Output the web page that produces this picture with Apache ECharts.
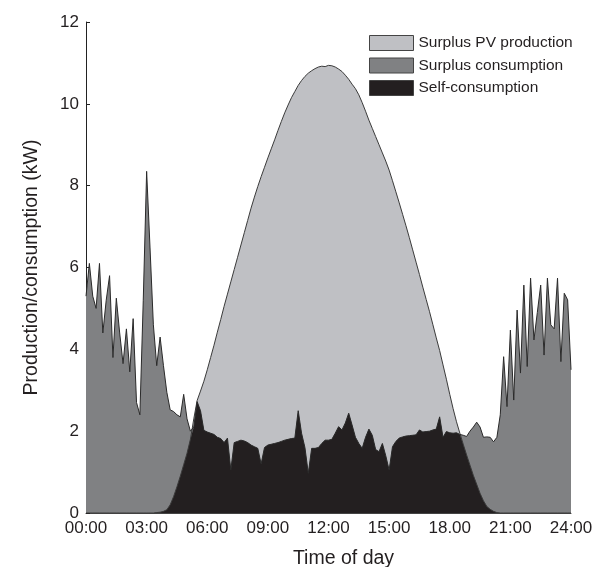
<!DOCTYPE html>
<html>
<head>
<meta charset="utf-8">
<script src="https://cdn.jsdelivr.net/npm/echarts@6/dist/echarts.min.js"></script>
<style>
  html, body { margin: 0; padding: 0; background: #ffffff; }
  #chart { width: 601px; height: 567px; }
</style>
</head>
<body>
<div id="chart"></div>
<script>
// Time grid: one sample every 10 minutes, 00:00 .. 24:00
const stepMinutes = 10;

// Total household consumption (kW)
const consumption = [
  5.3, 6.1, 5.3, 5.0, 6.1, 4.4, 5.2, 5.8, 3.8, 5.25,
  4.4, 3.65, 4.5, 3.45, 4.75, 2.7, 2.4, 5.2, 8.35, 6.5,
  4.6, 3.6, 4.3, 3.6, 2.95, 2.52, 2.48, 2.4, 2.35, 2.9,
  2.3, 2.0, 2.1, 2.72, 2.5, 2.02, 1.98, 1.95, 1.92, 1.85,
  1.82, 1.72, 1.83, 1.05, 1.72, 1.75, 1.78, 1.76, 1.72, 1.66,
  1.62, 1.58, 1.2, 1.6, 1.66, 1.68, 1.70, 1.72, 1.75, 1.78,
  1.80, 1.82, 1.83, 2.5, 1.95, 1.6, 0.97, 1.58, 1.58, 1.6,
  1.7, 1.78, 1.78, 1.8, 1.95, 2.11, 2.03, 2.2, 2.44, 2.15,
  1.85, 1.7, 1.58, 1.85, 2.05, 1.9, 1.55, 1.5, 1.7, 1.4,
  1.05, 1.62, 1.75, 1.83, 1.86, 1.88, 1.89, 1.9, 1.91, 2.03,
  1.98, 1.99, 2.0, 2.03, 2.05, 2.35, 1.85, 1.99, 1.96, 1.95,
  1.96, 1.92, 1.9, 1.87, 2.0, 2.1, 2.22, 2.1, 1.85, 1.86,
  1.85, 1.74, 1.85, 2.4, 3.82, 2.6, 4.47, 2.76, 4.96, 3.42,
  5.57, 3.58, 5.74, 4.23, 4.9, 5.57, 3.86, 5.74, 4.6, 4.5,
  5.74, 3.70, 5.37, 5.21, 3.5
];

// PV production (kW)
const pvProduction = [
  0, 0, 0, 0, 0, 0, 0, 0, 0, 0,
  0, 0, 0, 0, 0, 0, 0, 0, 0, 0,
  0, 0.01, 0.02, 0.04, 0.08, 0.2, 0.4, 0.64, 0.9, 1.18,
  1.46, 1.8, 2.3, 2.75, 2.98, 3.22, 3.5, 3.8, 4.1, 4.42,
  4.73, 5.05, 5.35, 5.65, 5.95, 6.25, 6.55, 6.85, 7.15, 7.45,
  7.72, 7.98, 8.22, 8.45, 8.68, 8.9, 9.12, 9.35, 9.57, 9.78,
  9.97, 10.15, 10.3, 10.45, 10.57, 10.67, 10.75, 10.81, 10.86, 10.9,
  10.92, 10.91, 10.94, 10.93, 10.9, 10.85, 10.79, 10.7, 10.6, 10.48,
  10.37, 10.22, 10.03, 9.82, 9.6, 9.4, 9.2, 9.0, 8.8, 8.6,
  8.38, 8.12, 7.85, 7.58, 7.3, 7.02, 6.73, 6.43, 6.13, 5.83,
  5.52, 5.22, 4.92, 4.6, 4.28, 3.97, 3.62, 3.27, 2.9, 2.55,
  2.23, 1.95, 1.68, 1.42, 1.17, 0.92, 0.7, 0.48, 0.3, 0.16,
  0.09, 0.04, 0.01, 0, 0, 0, 0, 0, 0, 0,
  0, 0, 0, 0, 0, 0, 0, 0, 0, 0,
  0, 0, 0, 0, 0
];

const xTickLabels = ['00:00', '03:00', '06:00', '09:00', '12:00', '15:00', '18.00', '21:00', '24:00'];
const seriesNames = ['Surplus PV production', 'Surplus consumption', 'Self-consumption'];

const hours = consumption.map((_, i) => i * stepMinutes / 60);
const pvPairs = pvProduction.map((v, i) => [hours[i], v]);
const consPairs = consumption.map((v, i) => [hours[i], v]);
const selfPairs = consumption.map((v, i) => [hours[i], Math.min(v, pvProduction[i])]);

const FONT = '"Liberation Sans", Arial, Helvetica, sans-serif';
const TXT = '#231f20';
const C_PV = '#bfc0c4';
const C_CONS = '#808183';
const C_SELF = '#231f20';

const chart = echarts.init(document.getElementById('chart'), null, { renderer: 'canvas' });
chart.setOption({
  animation: false,
  backgroundColor: '#ffffff',
  textStyle: { fontFamily: FONT },
  grid: { left: 86, width: 485, top: 22, height: 491, containLabel: false, outerBoundsMode: 'none' },
  legend: {
    orient: 'vertical',
    left: 369,
    top: 35,
    padding: 0,
    itemWidth: 44,
    itemHeight: 15,
    itemGap: 6.5,
    textStyle: { fontFamily: FONT, fontSize: 15.5, color: TXT },
    data: [
      { name: seriesNames[0], icon: 'rect', itemStyle: { color: C_PV, borderColor: '#444', borderWidth: 1 } },
      { name: seriesNames[1], icon: 'rect', itemStyle: { color: C_CONS, borderColor: '#444', borderWidth: 1 } },
      { name: seriesNames[2], icon: 'rect', itemStyle: { color: C_SELF, borderColor: '#444', borderWidth: 1 } }
    ]
  },
  xAxis: {
    type: 'value',
    min: 0,
    max: 24,
    interval: 3,
    name: 'Time of day',
    nameLocation: 'middle',
    nameGap: 36,
    nameTextStyle: { fontFamily: FONT, fontSize: 19.5, color: TXT, padding: [0, 0, 0, 30] },
    axisLine: { show: true, lineStyle: { color: '#444', width: 1 } },
    axisTick: { show: false },
    splitLine: { show: false },
    axisLabel: {
      fontFamily: FONT, fontSize: 17, color: TXT, margin: 7,
      formatter: (v) => xTickLabels[Math.round(v / 3)]
    }
  },
  yAxis: {
    type: 'value',
    min: 0,
    max: 12,
    interval: 2,
    name: 'Production/consumption (kW)',
    nameLocation: 'middle',
    nameGap: 44,
    nameTextStyle: { fontFamily: FONT, fontSize: 19.5, color: TXT },
    axisLine: { show: true, lineStyle: { color: '#222', width: 1 } },
    axisTick: { show: true, inside: true, length: 4, lineStyle: { color: '#222' } },
    splitLine: { show: false },
    axisLabel: { fontFamily: FONT, fontSize: 17, color: TXT, margin: 7 }
  },
  series: [
    {
      name: seriesNames[0],
      type: 'line',
      data: pvPairs,
      symbol: 'none',
      lineStyle: { color: '#3a3a3a', width: 1 },
      areaStyle: { color: C_PV, opacity: 1 },
      itemStyle: { color: C_PV }
    },
    {
      name: seriesNames[1],
      type: 'line',
      data: consPairs,
      symbol: 'none',
      lineStyle: { color: '#2a2a2a', width: 1 },
      areaStyle: { color: C_CONS, opacity: 1 },
      itemStyle: { color: C_CONS }
    },
    {
      name: seriesNames[2],
      type: 'line',
      data: selfPairs,
      symbol: 'none',
      lineStyle: { width: 0, color: C_SELF },
      areaStyle: { color: C_SELF, opacity: 1 },
      itemStyle: { color: C_SELF }
    }
  ]
});
</script>
</body>
</html>
